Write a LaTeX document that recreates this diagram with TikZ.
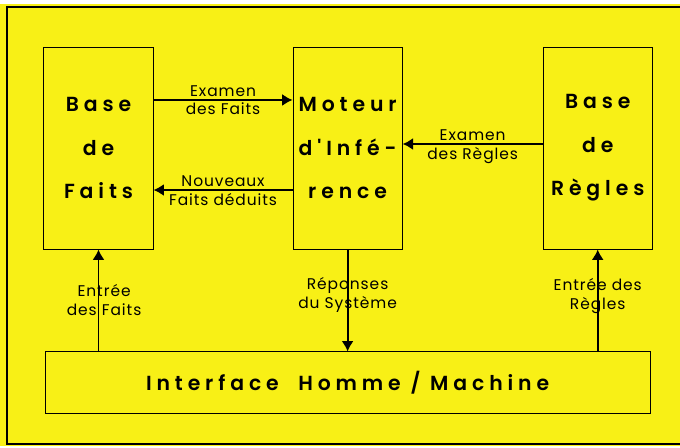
\documentclass[tikz,border=0pt]{standalone}
\usepackage{fontspec}
\setmainfont{Poppins}
\newfontfamily\boxfont[LetterSpace=24]{Poppins SemiBold}
\newfontfamily\labelfont[LetterSpace=6]{Poppins}
\usepackage{tikz}
\usetikzlibrary{arrows.meta,positioning}
\usepackage{xcolor}
\definecolor{bgyellow}{RGB}{248,240,22}

\begin{document}
\begin{tikzpicture}[
    x=0.025cm, y=-0.025cm,
    box/.style={rectangle, draw, line width=0.6pt, minimum width=2.73cm, minimum height=5.05cm, align=center, font=\boxfont\fontsize{14.5}{31}\selectfont},
    lbl/.style={font=\labelfont\fontsize{11}{13.5}\selectfont, align=center, inner sep=1.5pt},
    arrow/.style={-{Latex[length=2.6mm,width=3mm]}, line width=1.3pt}
]
    \useasboundingbox (0,0) rectangle (680,448);
    % Background and frame
    \fill[white] (0,0) rectangle (680,448);
    \fill[bgyellow] (0,4) rectangle (680,446);
    \draw[line width=1.4pt] (680,7) -- (7,7) -- (7,444) -- (680,444);

    % Base de Faits
    \node[box] (faits) at (98.5,148) {Base\\de\\Faits};

    % Moteur d'Inference
    \node[box, right=3.475cm of faits] (moteur) {Moteur\\d'Infé-\\rence};

    % Base de Regles
    \node[box, right=3.5cm of moteur] (regles) {Base\\de\\Règles};

    % Interface
    \node[box, minimum width=15.125cm, minimum height=1.55cm, below=2.55cm of moteur] (iface) {Interface\ \ Homme / Machine};

    % Arrows
    \draw[arrow] ([yshift=1.2cm]faits.east) -- node[lbl, above] {Examen} node[lbl, below] {des Faits} ([yshift=1.2cm]moteur.west);
    \draw[arrow] ([yshift=-1.05cm]moteur.west) -- node[lbl, above] {Nouveaux} node[lbl, below] {Faits déduits} ([yshift=-1.05cm]faits.east);
    \draw[arrow] ([yshift=0.1cm]regles.west) -- node[lbl, above] {Examen} node[lbl, below] {des Règles} ([yshift=0.1cm]moteur.east);
    \draw[arrow] (faits.south |- iface.north) -- node[lbl, xshift=0.14cm] {Entrée\\des Faits} (faits.south);
    \draw[arrow] (moteur.south) -- node[lbl, yshift=0.15cm] {Réponses\\du Système} (moteur.south |- iface.north);
    \draw[arrow] (regles.south |- iface.north) -- node[lbl, yshift=0.1cm] {Entrée des\\Règles} (regles.south);
\end{tikzpicture}
\end{document}
